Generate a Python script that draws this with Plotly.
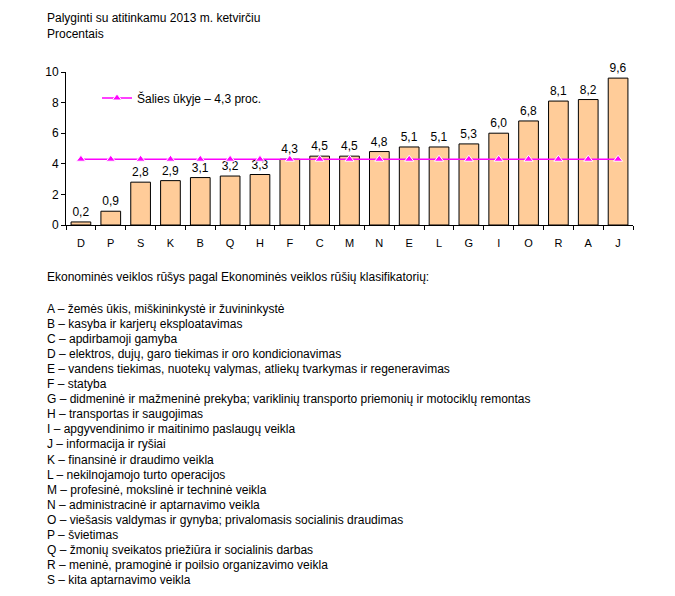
import plotly.graph_objects as go

categories = ["D", "P", "S", "K", "B", "Q", "H", "F", "C", "M", "N", "E", "L", "G", "I", "O", "R", "A", "J"]
values = [0.2, 0.9, 2.8, 2.9, 3.1, 3.2, 3.3, 4.3, 4.5, 4.5, 4.8, 5.1, 5.1, 5.3, 6.0, 6.8, 8.1, 8.2, 9.6]
national = [4.3] * len(categories)
national_name = "Šalies ūkyje – 4,3 proc."

header_lines = ["Palyginti su atitinkamu 2013 m. ketvirčiu", "Procentais"]
legend_title = "Ekonominės veiklos rūšys pagal Ekonominės veiklos rūšių klasifikatorių:"
codes = [
    "A – žemės ūkis, miškininkystė ir žuvininkystė",
    "B – kasyba ir karjerų eksploatavimas",
    "C – apdirbamoji gamyba",
    "D – elektros, dujų, garo tiekimas ir oro kondicionavimas",
    "E – vandens tiekimas, nuotekų valymas, atliekų tvarkymas ir regeneravimas",
    "F – statyba",
    "G – didmeninė ir mažmeninė prekyba; variklinių transporto priemonių ir motociklų remontas",
    "H – transportas ir saugojimas",
    "I – apgyvendinimo ir maitinimo paslaugų veikla",
    "J – informacija ir ryšiai",
    "K – finansinė ir draudimo veikla",
    "L – nekilnojamojo turto operacijos",
    "M – profesinė, mokslinė ir techninė veikla",
    "N – administracinė ir aptarnavimo veikla",
    "O – viešasis valdymas ir gynyba; privalomasis socialinis draudimas",
    "P – švietimas",
    "Q – žmonių sveikatos priežiūra ir socialinis darbas",
    "R – meninė, pramoginė ir poilsio organizavimo veikla",
    "S – kita aptarnavimo veikla",
]

# page offset of the figure inside the browser (body margin)
OFF = 8
W, H = 675, 596
L, T = 66 - OFF, 72 - OFF
PR, PB = 633 - OFF, 225 - OFF   # plot right / bottom in figure px
R, B = W - PR, H - PB
PW, PH = PR - L, PB - T

def px(x):
    return (x - OFF - L) / PW

def py(y):
    return (PB - (y - OFF)) / PH

FONT = "Liberation Sans, Arial, sans-serif"

fig = go.Figure()
fig.add_trace(go.Bar(
    x=categories, y=values,
    marker=dict(color="#FFCC99", line=dict(color="black", width=1)),
    width=0.66,
    text=values, texttemplate="%{y:.1f}", textposition="outside",
    textfont=dict(size=12, color="black", family=FONT),
    cliponaxis=False, showlegend=False,
))
fig.add_trace(go.Scatter(
    x=categories, y=national, mode="lines+markers", name=national_name,
    line=dict(color="#FF00FF", width=1.5),
    marker=dict(symbol="triangle-up", size=8, color="#FF00FF", line=dict(color="white", width=1)),
    cliponaxis=False,
))

annotations = []
for i, t in enumerate(header_lines):
    annotations.append(dict(text=t, x=px(45), y=py(18 + 16 * i), xref="paper", yref="paper",
                            xanchor="left", yanchor="middle", showarrow=False,
                            font=dict(size=12, color="black", family=FONT)))
annotations.append(dict(text=legend_title, x=px(45), y=py(277), xref="paper", yref="paper",
                        xanchor="left", yanchor="middle", showarrow=False,
                        font=dict(size=12, color="black", family=FONT)))
for i, t in enumerate(codes):
    annotations.append(dict(text=t, x=px(45), y=py(309 + 15.05 * i), xref="paper", yref="paper",
                            xanchor="left", yanchor="middle", showarrow=False,
                            font=dict(size=12, color="black", family=FONT)))

fig.update_layout(
    width=W, height=H,
    margin=dict(l=L, r=R, t=T, b=B, autoexpand=False),
    paper_bgcolor="white", plot_bgcolor="white",
    separators=", ",
    font=dict(family=FONT, size=11, color="black"),
    showlegend=True,
    legend=dict(x=px(97), y=py(98), xanchor="left", yanchor="middle",
                bgcolor="rgba(0,0,0,0)", font=dict(size=12, family=FONT),
                itemwidth=30),
    xaxis=dict(range=[-0.5, len(categories) - 0.5], showline=True, linecolor="black", linewidth=1,
               ticks="outside", ticklen=4, tickcolor="black", tickson="boundaries", showgrid=False,
               ticklabelstandoff=8,
               tickfont=dict(size=11, family=FONT)),
    yaxis=dict(range=[0, 10], dtick=2, showline=True, linecolor="black", linewidth=1,
               ticks="outside", ticklen=4, tickcolor="black", showgrid=False, zeroline=False,
               tickfont=dict(size=12, family=FONT)),
    annotations=annotations,
)

fig.write_html("out.html")
